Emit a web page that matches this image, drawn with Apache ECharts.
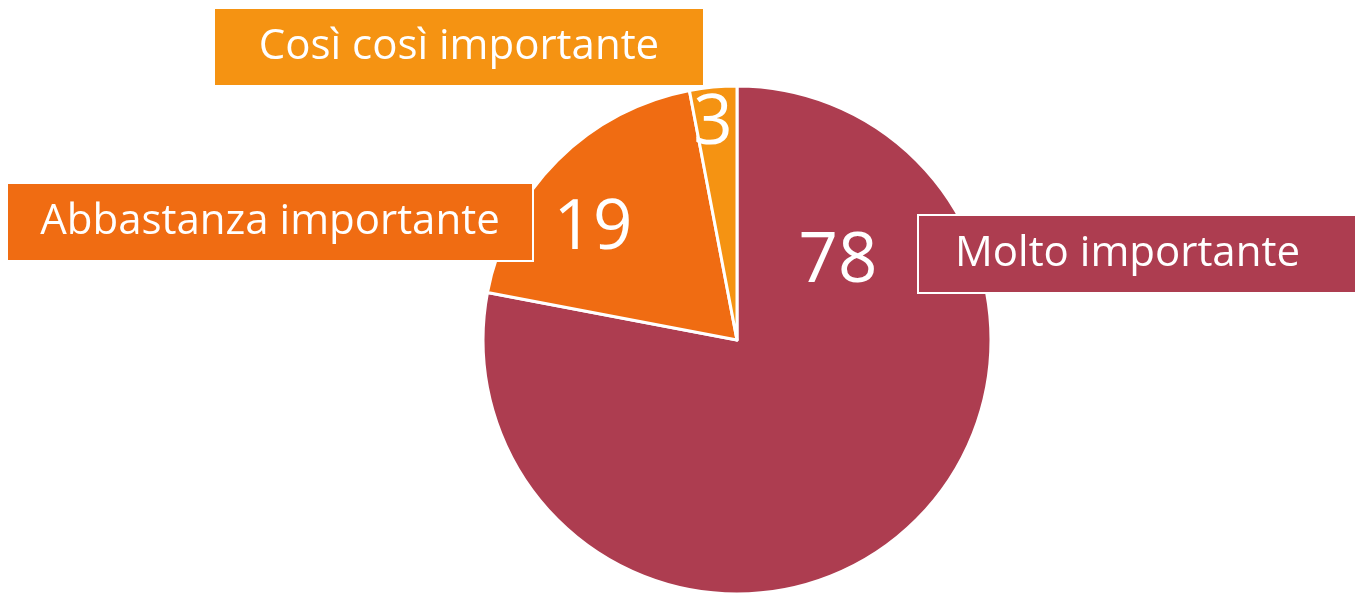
<!DOCTYPE html>
<html>
<head>
<meta charset="utf-8">
<script src="https://cdn.jsdelivr.net/npm/echarts@6/dist/echarts.min.js"></script>
<style>
  html, body { margin: 0; padding: 0; background: #fff; }
  #chart { width: 1355px; height: 593px; }
</style>
</head>
<body>
<div id="chart"></div>
<script>
// dati del grafico
const categories = ['Molto importante', 'Abbastanza importante', 'Così così importante'];
const values = [78, 19, 3];
const colors = ['#ad3d50', '#f06c12', '#f59312'];

// posizioni delle etichette (come nell'originale)
const valuePos = [[838, 262], [593, 229], [713, 124]];
const namePos = [
  { x: 919, y: 254, align: 'left', width: 380, padX: 36 },
  { x: 270, y: 222, align: 'center', width: 470, padX: 27 },
  { x: 459, y: 47, align: 'center', width: 440, padX: 24 }
];

const font = '"Open Sans", "DejaVu Sans", sans-serif';

const chart = echarts.init(document.getElementById('chart'));

const pieBase = {
  type: 'pie',
  center: [737, 340],
  radius: 254,
  startAngle: 90,
  clockwise: true,
  silent: true,
  labelLine: { show: false }
};

chart.setOption({
  animation: false,
  color: colors,
  series: [
    {
      ...pieBase,
      itemStyle: { borderColor: '#fff', borderWidth: 3 },
      label: {
        show: true,
        position: 'inside',
        formatter: '{c}',
        color: '#fff',
        fontFamily: font,
        fontSize: 69
      },
      labelLayout: (p) => ({
        x: valuePos[p.dataIndex][0],
        y: valuePos[p.dataIndex][1],
        align: 'center',
        verticalAlign: 'middle'
      }),
      data: categories.map((name, i) => ({ name, value: values[i] }))
    },
    {
      ...pieBase,
      itemStyle: { color: 'transparent', borderWidth: 0 },
      label: {
        show: true,
        position: 'outside',
        formatter: '{b}',
        color: '#fff',
        fontFamily: font,
        fontSize: 42,
        borderColor: '#fff',
        borderWidth: 2
      },
      labelLayout: (p) => ({
        x: namePos[p.dataIndex].x,
        y: namePos[p.dataIndex].y,
        align: namePos[p.dataIndex].align,
        verticalAlign: 'middle'
      }),
      data: categories.map((name, i) => ({
        name,
        value: values[i],
        label: {
          backgroundColor: colors[i],
          width: namePos[i].width,
          align: namePos[i].align,
          padding: [20, namePos[i].padX, 14, namePos[i].padX]
        }
      }))
    }
  ]
});
</script>
</body>
</html>
